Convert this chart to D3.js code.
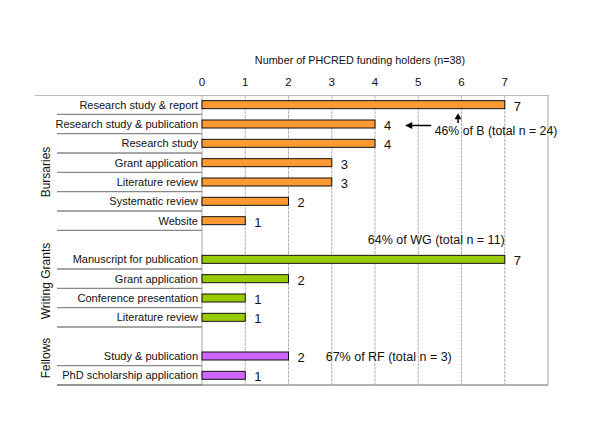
<!DOCTYPE html>
<html><head><meta charset="utf-8">
<script src="https://cdn.jsdelivr.net/npm/d3@7"></script>
<style>body{margin:0;background:#fff;} text{font-family:"Liberation Sans",Arial,sans-serif;}</style>
</head><body>
<svg id="c" width="600" height="438"></svg>
<script>
const groups = ["Bursaries", "Writing Grants", "Fellows"];
const categories = ["Research study & report","Research study & publication","Research study","Grant application","Literature review","Systematic review","Website",
  "Manuscript for publication","Grant application","Conference presentation","Literature review",
  "Study & publication","PhD scholarship application"];
const values = [7,4,4,3,3,2,1, 7,2,1,1, 2,1];
const groupIndex = [0,0,0,0,0,0,0, 1,1,1,1, 2,2];
const groupColors = ["#FF9933", "#99CC00", "#CC66FF"];
const ticks = [0,1,2,3,4,5,6,7];
const title = "Number of PHCRED funding holders (n=38)";
const notes = ["46% of B (total n = 24)", "64% of WG (total n = 11)", "67% of RF (total n = 3)"];

(function () {
const slots = [];
categories.forEach((c, i) => {
  if (i > 0 && groupIndex[i] !== groupIndex[i-1]) slots.push({spacer: true, g: groupIndex[i]});
  slots.push({spacer: false, i, g: groupIndex[i], name: c, v: values[i]});
});
slots.forEach((s, k) => s.k = k);

const svg = d3.select("#c");
const yTop = 95, yBot = 385;
const x = d3.scaleLinear().domain([0, 8]).range([202, 548]);
const y = d3.scaleBand().domain(d3.range(slots.length)).range([yTop, yBot]);
const bh = 8;

svg.append("text").attr("x", 360).attr("y", 64).attr("text-anchor", "middle")
  .attr("font-size", 10.8).attr("fill", "#111").text(title);

svg.selectAll(".tl").data(ticks).join("text").attr("class", "tl")
  .attr("x", d => x(d)).attr("y", 86).attr("text-anchor", "middle")
  .attr("font-size", 11.5).attr("fill", "#111").text(d => d);

svg.selectAll(".gl").data(ticks.slice(1)).join("line").attr("class", "gl")
  .attr("x1", d => x(d)).attr("x2", d => x(d)).attr("y1", yTop).attr("y2", yBot)
  .attr("stroke", "#b0b0b0").attr("stroke-width", 1).attr("stroke-dasharray", "3,1");

svg.append("line").attr("x1", 35).attr("x2", x(8)).attr("y1", yTop + 0.5).attr("y2", yTop + 0.5).attr("stroke", "#bbb");
svg.append("line").attr("x1", x(8)).attr("x2", x(8)).attr("y1", yTop).attr("y2", yBot).attr("stroke", "#aaa");
svg.append("line").attr("x1", x(0)).attr("x2", x(0)).attr("y1", yTop).attr("y2", yBot).attr("stroke", "#aaa");
svg.append("line").attr("x1", 57).attr("x2", x(8)).attr("y1", yBot).attr("y2", yBot).attr("stroke", "#999").attr("stroke-width", 1.5);

const rows = slots.filter(s => !s.spacer);
svg.selectAll(".sep").data(rows).join("line").attr("class", "sep")
  .attr("x1", 57).attr("x2", x(0)).attr("y1", d => y(d.k) + y.bandwidth()).attr("y2", d => y(d.k) + y.bandwidth())
  .attr("stroke", "#888").attr("stroke-width", 1.3);

svg.selectAll(".cl").data(rows).join("text").attr("class", "cl")
  .attr("x", x(0) - 4).attr("y", d => y(d.k) + y.bandwidth() / 2 + 4).attr("text-anchor", "end")
  .attr("font-size", 11).attr("fill", "#111").text(d => d.name);

svg.selectAll(".bar").data(rows).join("rect").attr("class", "bar")
  .attr("x", x(0)).attr("y", d => y(d.k) + y.bandwidth() / 2 - bh / 2)
  .attr("width", d => x(d.v) - x(0)).attr("height", bh)
  .attr("fill", d => groupColors[d.g]).attr("stroke", "#111").attr("stroke-width", 1);

svg.selectAll(".vl").data(rows).join("text").attr("class", "vl")
  .attr("x", d => x(d.v) + 9).attr("y", d => y(d.k) + y.bandwidth() / 2 + 6)
  .attr("font-size", 13).attr("fill", "#111").text(d => d.v);

const gCenters = [172, 281, 358];
groups.forEach((g, i) => {
  svg.append("text").attr("transform", `translate(50,${gCenters[i]}) rotate(-90)`)
    .attr("text-anchor", "middle").attr("font-size", 12).attr("fill", "#111").text(g);
});

const row1 = y(1) + y.bandwidth() / 2;
svg.append("text").attr("x", x(5.38)).attr("y", row1 + 11).attr("font-size", 12.3).attr("fill", "#111").text(notes[0]);
svg.append("line").attr("x1", x(5.3)).attr("x2", x(4.72)).attr("y1", row1 + 1.5).attr("y2", row1 + 1.5).attr("stroke", "#000").attr("stroke-width", 1.5);
svg.append("path").attr("d", `M${x(4.7)},${row1 + 1.5} l7,-3.5 l0,7 z`).attr("fill", "#000");
svg.append("line").attr("x1", x(5.92)).attr("x2", x(5.92)).attr("y1", row1 - 1).attr("y2", y(1) + 2).attr("stroke", "#000").attr("stroke-width", 1.5);
svg.append("path").attr("d", `M${x(5.92)},${y(1) - 1} l-3.5,6 l7,0 z`).attr("fill", "#000");

svg.append("text").attr("x", x(7)).attr("y", y(7) + y.bandwidth() / 2 + 4).attr("text-anchor", "end")
  .attr("font-size", 12.5).attr("fill", "#111").text(notes[1]);
const rfRow = slots.find(s => !s.spacer && s.i === 11);
svg.append("text").attr("x", x(2.86)).attr("y", y(rfRow.k) + y.bandwidth() / 2 + 4.5)
  .attr("font-size", 12.5).attr("fill", "#111").text(notes[2]);
})();
</script>
</body></html>
